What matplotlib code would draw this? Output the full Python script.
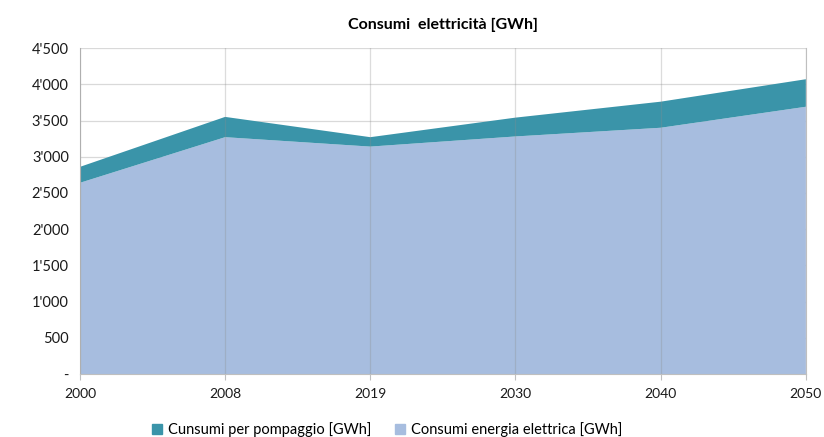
import matplotlib
matplotlib.use("Agg")
import matplotlib.pyplot as plt
from matplotlib.patches import Patch
from matplotlib.ticker import FuncFormatter

# Consumi elettrici per anno (GWh)
anni = ["2000", "2008", "2019", "2030", "2040", "2050"]
consumi_energia = [2640, 3270, 3140, 3280, 3400, 3690]
consumi_pompaggio = [220, 280, 130, 260, 360, 380]

COL_ENERGIA = "#a7bddf"
COL_POMPAGGIO = "#3a94a9"

plt.rcParams["font.family"] = ["Lato", "DejaVu Sans"]


def fmt_migliaia(v, pos):
    if v == 0:
        return "-"
    return f"{int(v):,}".replace(",", "'")


fig = plt.figure(figsize=(8.24, 4.37), dpi=100)
ax = fig.add_axes([0.097, 0.144, 0.881, 0.746])

x = list(range(len(anni)))
ax.stackplot(x, consumi_energia, consumi_pompaggio,
             colors=[COL_ENERGIA, COL_POMPAGGIO], linewidth=0, zorder=2)

ax.set_xlim(0, len(anni) - 1)
ax.set_ylim(0, 4500)
ax.set_xticks(x)
ax.set_xticklabels(anni, fontsize=10)
ax.set_yticks(range(0, 4501, 500))
ax.yaxis.set_major_formatter(FuncFormatter(fmt_migliaia))
ax.tick_params(axis="y", labelsize=10.5, length=0, pad=8)
ax.tick_params(axis="x", length=4, color="#bfbfbf", pad=6)

# griglia orizzontale sotto le aree, verticale sopra (semitrasparente)
for yv in ax.get_yticks():
    ax.axhline(yv, color="#d9d9d9", linewidth=0.9, zorder=1)
for xv in x:
    ax.axvline(xv, color="#8c8c8c", alpha=0.3, linewidth=0.9, zorder=3)

for lbl in ax.get_yticklabels() + ax.get_xticklabels():
    lbl.set_color("#1a1a1a")
ax.spines["top"].set_visible(False)
for s in ["left", "bottom", "right"]:
    ax.spines[s].set_color("#bfbfbf")

ax.set_title("Consumi  elettricità [GWh]", fontsize=11.5, fontweight="bold", pad=14)

handles = [Patch(color=COL_POMPAGGIO, label="Cunsumi per pompaggio [GWh]"),
           Patch(color=COL_ENERGIA, label="Consumi energia elettrica [GWh]")]
fig.legend(handles=handles, loc="lower center", ncol=2, frameon=False,
           fontsize=10.5, handlelength=0.7, handleheight=0.7,
           columnspacing=1.6, handletextpad=0.4, bbox_to_anchor=(0.47, -0.03))

fig.savefig("out.png", dpi=100)
